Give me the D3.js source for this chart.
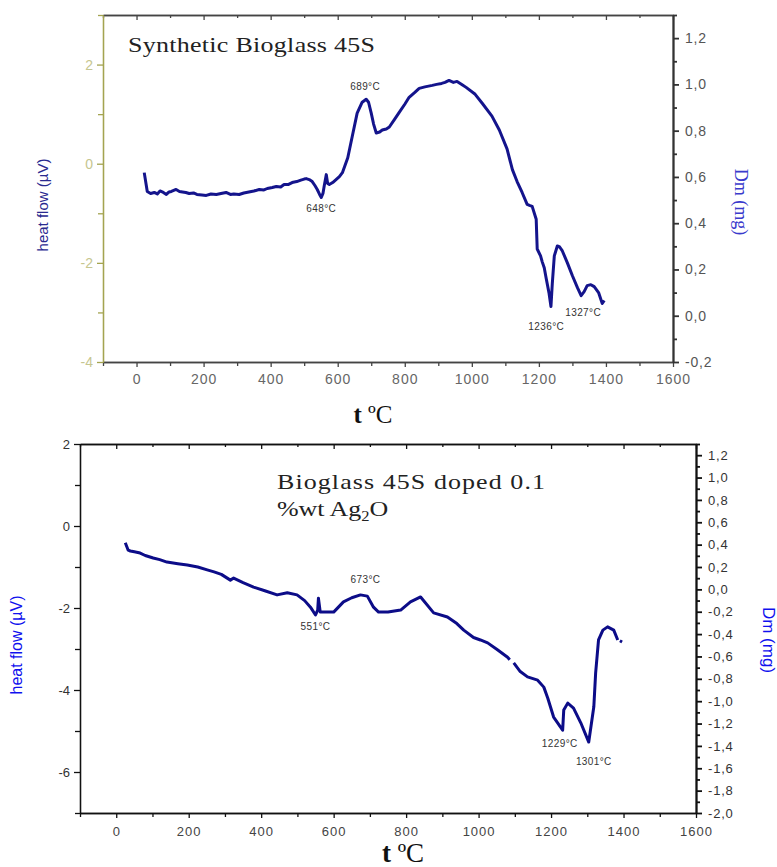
<!DOCTYPE html>
<html>
<head>
<meta charset="utf-8">
<script src="https://cdn.jsdelivr.net/npm/d3@7"></script>
<style>
  body { margin: 0; background: #fff; }
  svg { display: block; }
  .tick text { font-family: 'Liberation Sans', Arial, sans-serif; }
  .note { font-family: 'Liberation Sans', Arial, sans-serif; font-size: 10px; fill: #333; letter-spacing: 0.4px; }
  .title { font-family: 'Liberation Serif', 'Times New Roman', serif; font-size: 22px; fill: #222; }
</style>
</head>
<body>
<svg id="chart" width="777" height="867"></svg>
<script>
// top panel: synthetic bioglass 45S
const topTemp = [23, 32, 42, 53, 62, 70, 80, 89, 97, 104, 118, 128, 137, 147, 157, 170, 180, 195, 208, 222, 238, 252, 267, 280, 290, 306, 320, 335, 350, 366, 380, 390, 405, 417, 430, 440, 452, 464, 478, 490, 500, 506, 515, 524, 532, 539, 546, 551, 556, 560, 566, 570, 575, 585, 595, 605, 614, 630, 643, 658, 673, 685, 692, 700, 707, 715, 725, 733, 745, 754, 770, 784, 800, 813, 830, 843, 860, 882, 895, 910, 920, 932, 945, 956, 970, 983, 1010, 1031, 1060, 1082, 1105, 1121, 1135, 1150, 1165, 1172, 1180, 1192, 1195, 1205, 1210, 1216, 1222, 1230, 1236, 1240, 1246, 1255, 1262, 1270, 1285, 1300, 1315, 1326, 1335, 1344, 1355, 1365, 1378, 1389, 1395]
const topHeat = [-0.18, -0.56, -0.60, -0.58, -0.61, -0.55, -0.58, -0.62, -0.57, -0.56, -0.52, -0.56, -0.57, -0.58, -0.60, -0.59, -0.62, -0.63, -0.64, -0.61, -0.62, -0.60, -0.58, -0.62, -0.61, -0.62, -0.59, -0.57, -0.55, -0.52, -0.53, -0.50, -0.48, -0.46, -0.47, -0.42, -0.42, -0.38, -0.36, -0.33, -0.31, -0.30, -0.32, -0.36, -0.44, -0.52, -0.62, -0.68, -0.60, -0.44, -0.22, -0.40, -0.42, -0.38, -0.32, -0.26, -0.18, 0.12, 0.54, 1.02, 1.24, 1.30, 1.24, 1.02, 0.80, 0.62, 0.64, 0.68, 0.70, 0.74, 0.90, 1.04, 1.20, 1.34, 1.44, 1.52, 1.55, 1.58, 1.60, 1.62, 1.64, 1.68, 1.64, 1.66, 1.60, 1.54, 1.40, 1.22, 0.96, 0.68, 0.30, -0.12, -0.36, -0.58, -0.82, -0.84, -0.86, -1.12, -1.72, -1.86, -1.98, -2.10, -2.32, -2.60, -2.88, -2.42, -1.86, -1.66, -1.68, -1.76, -2.00, -2.26, -2.50, -2.66, -2.58, -2.46, -2.44, -2.48, -2.60, -2.82, -2.76]
const topNotes = ['689°C', '648°C', '1236°C', '1327°C']
const topNoteTemp = [682, 551, 1222, 1332]
const topNoteHeat = [1.48, -0.98, -3.36, -3.08]

// bottom panel: bioglass 45S doped 0.1 %wt Ag2O (null = gap in the trace)
const botTemp = [25, 33, 39, 50, 66, 80, 102, 120, 140, 170, 196, 225, 251, 270, 290, 315, 324, 350, 379, 410, 444, 472, 499, 520, 536, 550, 556, 558, 563, 580, 600, 627, 650, 674, 693, 710, 724, 750, 785, 812, 840, 876, 914, 940, 959, 986, 1005, 1025, 1052, 1080, 1086, 1092, 1097, 1115, 1135, 1163, 1180, 1191, 1207, 1232, 1235, 1246, 1262, 1282, 1304, 1318, 1323, 1331, 1343, 1356, 1373, 1384, 1387, 1390, 1396]
const botHeat = [-0.41, -0.59, -0.61, -0.63, -0.66, -0.72, -0.78, -0.82, -0.88, -0.92, -0.95, -1.00, -1.07, -1.12, -1.18, -1.32, -1.27, -1.38, -1.49, -1.58, -1.68, -1.63, -1.68, -1.82, -1.98, -2.17, -2.05, -1.76, -2.10, -2.10, -2.10, -1.85, -1.75, -1.68, -1.71, -1.98, -2.10, -2.10, -2.05, -1.85, -1.73, -2.12, -2.22, -2.38, -2.54, -2.72, -2.78, -2.85, -3.02, -3.20, -3.26, null, -3.34, -3.55, -3.68, -3.76, -3.93, -4.20, -4.66, -4.98, -4.49, -4.32, -4.44, -4.80, -5.27, -4.41, -3.59, -2.78, -2.54, -2.46, -2.54, -2.78, null, -2.80, -2.83]
const botNotes = ['673°C', '551°C', '1229°C', '1301°C']
const botNoteTemp = [688, 550, 1224, 1318]
const botNoteHeat = [-1.39, -2.54, -5.39, -5.83]

const tempTicks = [0, 200, 400, 600, 800, 1000, 1200, 1400, 1600]
const tempMinor = [-100, 100, 300, 500, 700, 900, 1100, 1300, 1500]

const svg = d3.select('#chart')
const locale = d3.formatLocale({ decimal: ',', thousands: '.', grouping: [3], currency: ['', ''], minus: '-' })
const fmtDm = locale.format('.1f')
const fmtInt = locale.format('d')

const panel = (opts, temps, heats, notes, noteT, noteH) => {
  const g = svg.append('g').attr('transform', `translate(${opts.left},${opts.top})`)
  const x = d3.scaleLinear().domain([-100, 1600]).range([0, opts.width])
  const y = d3.scaleLinear().domain(opts.heatDomain).range([opts.height, 0])
  const y2 = d3.scaleLinear().domain(opts.dmDomain).range([opts.height, 0])

  const heatMajor = d3.range(opts.heatDomain[0] + (opts.heatDomain[0] % 2 === 0 ? 0 : 1), opts.heatDomain[1] + 0.01, 2)
  const heatMinor = d3.range(Math.ceil(opts.heatDomain[0]), opts.heatDomain[1] + 0.01, 1).filter(v => Math.abs(v % 2) === 1)
  const dmAll = d3.range(Math.round(opts.dmDomain[0] * 10), Math.round(opts.dmDomain[1] * 10) + 1).map(v => v / 10)
  const dmMajor = dmAll.filter(v => Math.round(v * 10) % 2 === 0)
  const dmMinor = dmAll.filter(v => Math.round(v * 10) % 2 !== 0)

  // frame top with inward ticks
  g.append('g').attr('class', 'axis axis-top')
    .call(d3.axisTop(x).tickValues(tempTicks).tickSize(-5).tickSizeOuter(0).tickFormat(''))
  g.append('g').attr('class', 'axis axis-top-minor')
    .call(d3.axisTop(x).tickValues(tempMinor).tickSize(-3).tickSizeOuter(0).tickFormat(''))

  // bottom temperature axis
  g.append('g').attr('class', 'axis axis-x')
    .attr('transform', `translate(0,${opts.height})`)
    .call(d3.axisBottom(x).tickValues(tempTicks).tickSize(5).tickSizeOuter(0).tickPadding(opts.xPad).tickFormat(fmtInt))
  g.append('g').attr('class', 'axis axis-x-minor')
    .attr('transform', `translate(0,${opts.height})`)
    .call(d3.axisBottom(x).tickValues(tempMinor).tickSize(4).tickSizeOuter(0).tickFormat(''))

  // left heat flow axis
  g.append('g').attr('class', 'axis axis-y')
    .call(d3.axisLeft(y).tickValues(heatMajor).tickSize(6).tickSizeOuter(0).tickPadding(4).tickFormat(fmtInt))
  g.append('g').attr('class', 'axis axis-y-minor')
    .call(d3.axisLeft(y).tickValues(heatMinor).tickSize(5).tickSizeOuter(0).tickFormat(''))

  // right mass change axis
  g.append('g').attr('class', 'axis axis-y2')
    .attr('transform', `translate(${opts.width},0)`)
    .call(d3.axisRight(y2).tickValues(dmMajor).tickSize(6).tickSizeOuter(0).tickPadding(6).tickFormat(fmtDm))
  g.append('g').attr('class', 'axis axis-y2-minor')
    .attr('transform', `translate(${opts.width},0)`)
    .call(d3.axisRight(y2).tickValues(dmMinor).tickSize(4).tickSizeOuter(0).tickFormat(''))

  g.selectAll('.axis path, .axis line').attr('stroke', opts.frame).attr('stroke-width', 1.3)
  g.selectAll('.axis-x text').attr('fill', opts.xText).attr('font-size', opts.xSize).attr('letter-spacing', '1px')
  g.selectAll('.axis-y path, .axis-y line, .axis-y-minor path, .axis-y-minor line').attr('stroke', opts.leftColor)
  g.selectAll('.axis-y text').attr('fill', opts.leftText).attr('font-size', opts.ySize)
  g.selectAll('.axis-y2 text').attr('fill', opts.rightText).attr('font-size', opts.ySize).attr('letter-spacing', '0.8px')
  g.selectAll('.axis-y2 path, .axis-y2 line, .axis-y2-minor path, .axis-y2-minor line').attr('stroke', opts.rightColor).attr('stroke-width', 1.8)

  const line = d3.line()
    .defined(d => d[1] != null)
    .x(d => x(d[0]))
    .y(d => y(d[1]))

  g.append('path')
    .datum(temps.map((t, i) => [t, heats[i]]))
    .attr('d', line)
    .attr('fill', 'none')
    .attr('stroke', opts.curve)
    .attr('stroke-width', 3)
    .attr('stroke-linejoin', 'round')

  g.selectAll('.note').data(notes).enter().append('text')
    .attr('class', 'note')
    .attr('x', (d, i) => x(noteT[i]))
    .attr('y', (d, i) => y(noteH[i]))
    .attr('text-anchor', 'middle')
    .text(d => d)

  // axis titles
  g.append('text')
    .attr('transform', `translate(${opts.hfX},${opts.hfY}) rotate(-90)`)
    .attr('text-anchor', 'middle')
    .attr('font-family', "'Liberation Sans', Arial, sans-serif")
    .attr('font-size', opts.hfSize)
    .attr('fill', opts.hfColor)
    .text('heat flow (µV)')

  g.append('text')
    .attr('transform', `translate(${opts.width + opts.dmX},${opts.dmY}) rotate(90)`)
    .attr('text-anchor', 'middle')
    .attr('font-family', opts.dmFont)
    .attr('font-size', opts.dmSize)
    .attr('fill', opts.dmColor)
    .text('Dm (mg)')

  const xt = g.append('text')
    .attr('x', opts.width / 2 + opts.tShift)
    .attr('y', opts.tY)
    .attr('text-anchor', 'middle')
    .attr('font-family', "'Liberation Serif', 'Times New Roman', serif")
    .attr('font-size', opts.tSize)
    .attr('fill', '#111')
  xt.append('tspan').attr('font-weight', 'bold').text('t ')
  xt.append('tspan').text('ºC')

  return g
}

const topPanel = panel({
  left: 103, top: 15, width: 570, height: 347,
  heatDomain: [-4, 3], dmDomain: [-0.2, 1.3],
  frame: '#444', leftColor: '#a4a450', leftText: '#c6c690', rightColor: '#333', rightText: '#555',
  xText: '#666', xSize: '14px', xPad: 7, ySize: '14px', curve: '#14148c',
  hfX: -55, hfY: 190, hfSize: '15px', hfColor: '#2a2a90',
  dmX: 62, dmY: 187, dmFont: "'Liberation Serif', 'Times New Roman', serif", dmSize: '18px', dmColor: '#3a3acc',
  tShift: -15, tY: 408, tSize: '25px'
}, topTemp, topHeat, topNotes, topNoteTemp, topNoteHeat)

// titles are drawn a bit wide, like the original scan
const stretch = 1.18

topPanel.append('g').attr('transform', `translate(25,37) scale(${stretch},1)`)
  .append('text').attr('class', 'title')
  .attr('textLength', 247 / stretch).attr('lengthAdjust', 'spacing')
  .text('Synthetic Bioglass 45S')

const botPanel = panel({
  left: 80, top: 444, width: 616, height: 369,
  heatDomain: [-7, 2], dmDomain: [-2.0, 1.3],
  frame: '#111', leftColor: '#111', leftText: '#333', rightColor: '#111', rightText: '#333',
  xText: '#444', xSize: '13px', xPad: 9, ySize: '13px', curve: '#0c0c88',
  hfX: -58, hfY: 201, hfSize: '16px', hfColor: '#1010ee',
  dmX: 67, dmY: 196, dmFont: "'Liberation Sans', Arial, sans-serif", dmSize: '17px', dmColor: '#1010ee',
  tShift: 15, tY: 418, tSize: '27px'
}, botTemp, botHeat, botNotes, botNoteTemp, botNoteHeat)

const titleG = botPanel.append('g').attr('transform', `translate(197,0) scale(${stretch},1)`)
titleG.append('text').attr('class', 'title').attr('y', 45)
  .attr('textLength', 268 / stretch).attr('lengthAdjust', 'spacing')
  .text('Bioglass 45S doped 0.1')
const bt2 = titleG.append('text').attr('class', 'title').attr('y', 72)
bt2.append('tspan').text('%wt Ag')
bt2.append('tspan').attr('font-size', '14px').attr('dy', 5).text('2')
bt2.append('tspan').attr('dy', -5).text('O')
</script>
</body>
</html>
